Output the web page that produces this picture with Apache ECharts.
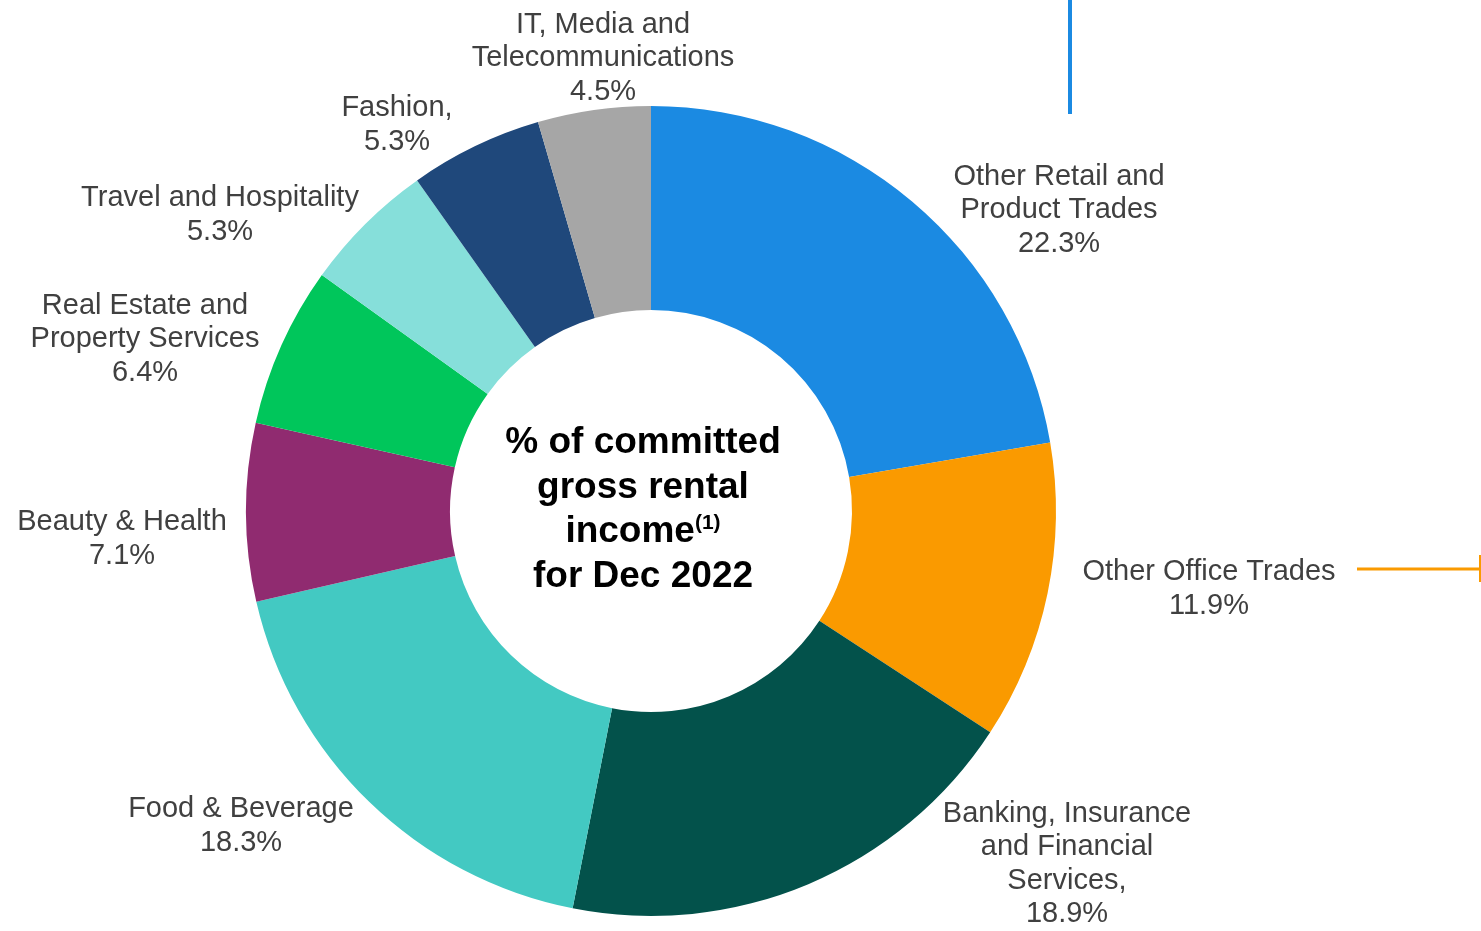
<!DOCTYPE html>
<html>
<head>
<meta charset="utf-8">
<script src="https://cdn.jsdelivr.net/npm/echarts@6/dist/echarts.min.js"></script>
<style>
html,body{margin:0;padding:0;background:#fff;}
#chart{width:1481px;height:931px;}
</style>
</head>
<body>
<div id="chart"></div>
<script>
const categories = [
  'Other Retail and\nProduct Trades',
  'Other Office Trades',
  'Banking, Insurance\nand Financial\nServices,',
  'Food & Beverage',
  'Beauty & Health',
  'Real Estate and\nProperty Services',
  'Travel and Hospitality',
  'Fashion,',
  'IT, Media and\nTelecommunications'
];
const values = [22.3, 11.9, 18.9, 18.3, 7.1, 6.4, 5.3, 5.3, 4.5];
const colors = ['#1b8ae2', '#fa9a00', '#03524b', '#43c9c2', '#902b70', '#00c65b', '#86dfda', '#1f487b', '#a6a6a6'];
// label block centres (layout only)
const labelPos = [
  [1059, 210], [1209, 589], [1067, 864], [241, 826], [122, 539],
  [145, 339], [220, 215], [397, 125], [603, 58]
];
const FONT = "'Liberation Sans', Arial, sans-serif";

const chart = echarts.init(document.getElementById('chart'));
chart.setOption({
  animation: false,
  series: [{
    type: 'pie',
    center: [651, 511],
    radius: [201, 405],
    startAngle: 90,
    clockwise: true,
    avoidLabelOverlap: false,
    itemStyle: { borderWidth: 0 },
    label: {
      show: true,
      position: 'outside',
      formatter: p => p.name + '\n' + p.value.toFixed(1) + '%',
      fontFamily: FONT,
      fontSize: 29,
      lineHeight: 33.5,
      color: '#404040',
      align: 'center'
    },
    labelLine: { show: false },
    labelLayout: function (params) {
      const p = labelPos[params.dataIndex];
      return { x: p[0], y: p[1], align: 'center', verticalAlign: 'middle' };
    },
    data: categories.map((c, i) => ({ name: c, value: values[i], itemStyle: { color: colors[i] } }))
  }],
  graphic: [
    {
      type: 'text',
      x: 643,
      y: 510,
      style: {
        text: '{b|% of committed}\n{b|gross rental}\n{b|income}{s|(1)}\n{b|for Dec 2022}',
        align: 'center',
        verticalAlign: 'middle',
        rich: {
          b: { fontFamily: FONT, fontSize: 37, fontWeight: 'bold', color: '#000', lineHeight: 44.5, align: 'center' },
          s: { fontFamily: FONT, fontSize: 21, fontWeight: 'bold', color: '#000', lineHeight: 44.5, align: 'center', padding: [0, 0, 18, 0] }
        }
      }
    },
    { type: 'line', shape: { x1: 1070, y1: 0, x2: 1070, y2: 114 }, style: { stroke: '#1b8ae2', lineWidth: 4 } },
    { type: 'line', shape: { x1: 1357, y1: 569, x2: 1480, y2: 569 }, style: { stroke: '#fa9a00', lineWidth: 3 } },
    { type: 'line', shape: { x1: 1480, y1: 555, x2: 1480, y2: 582 }, style: { stroke: '#fa9a00', lineWidth: 2 } }
  ]
});
</script>
</body>
</html>
